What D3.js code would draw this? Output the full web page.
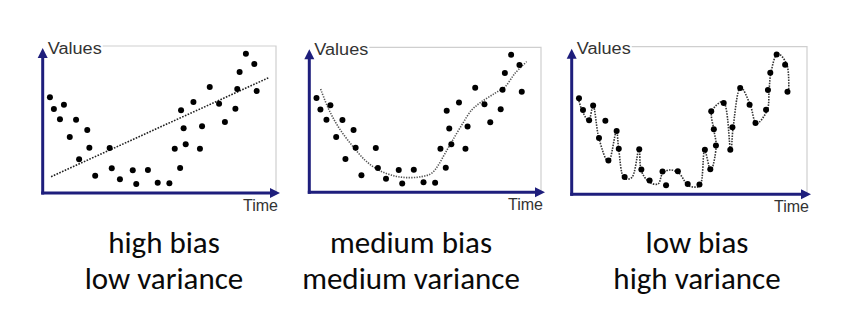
<!DOCTYPE html>
<html><head><meta charset="utf-8">
<script src="https://cdn.jsdelivr.net/npm/d3@7"></script>
<style>body{margin:0;background:#fff}</style></head>
<body><svg id="c" width="841" height="327"></svg>
<script>
// Observations (time, value) in data units 0..100
const dotX=[3.1,4.8,7.4,9.1,11.6,14.3,15.6,19.1,20.0,22.5,28.7,29.6,33.1,38.6,40.1,45.1,49.3,54.3,56.6,58.9,59.3,60.4,61.3,64.6,67.4,68.3,71.6,75.6,78.1,82.6,83.4,84.4,87.1,90.7,91.7];
const dotY=[65.1,57.1,50.1,60.1,38.1,49.9,22.9,42.9,30.8,11.8,30.6,16.8,9.3,15.4,6.1,15.6,7.0,6.6,30.1,17.0,56.3,44.0,33.1,61.9,30.1,45.4,72.1,60.7,48.3,57.3,70.7,82.3,94.8,87.8,69.4];
// high bias: straight fit
const fitX=[3.6,97.1];
const fitY=[11.1,78.6];
// medium bias: smooth fit
const curve2X=[4.9,8.2,12.5,18.3,24.0,29.8,37.0,42.7,48.5,52.8,55.7,58.6,61.5,65.8,70.1,74.4,80.1,84.5,88.8,93.8];
const curve2Y=[71.2,57.9,45.2,32.6,22.3,15.4,11.2,10.1,10.8,13.1,18.8,26.9,34.9,46.4,56.8,62.5,68.3,72.8,82.1,90.1];
// low bias: wiggly fit
const curve3X=[2.8,4.4,7.2,9.1,11.6,15.6,19.0,20.0,22.4,25.5,28.6,29.6,33.1,36.7,38.7,41.8,45.5,49.4,52.0,54.5,56.5,59.1,61.4,60.4,59.6,64.4,67.6,68.6,71.8,75.9,78.5,83.1,83.9,84.7,87.5,91.4,92.2];
const curve3Y=[65.0,56.9,49.9,59.8,37.7,21.9,42.7,30.2,10.8,11.3,30.5,15.8,8.1,7.0,14.4,16.5,14.4,6.1,4.9,5.8,29.6,16.2,32.7,43.8,56.2,62.8,29.6,45.1,72.5,60.5,47.9,57.1,70.9,82.6,95.3,88.1,69.5];
const captionTop=["high bias","medium bias","low bias"];
const captionBottom=["low variance","medium variance","high variance"];
const yLabel="Values", xLabel="Time";

const svg=d3.select("#c");
const panels=[
  {x0:42.7,y0:193,w:233.3,h:147,cx:164},
  {x0:309.3,y0:192.3,w:231.7,h:145,cx:411},
  {x0:571.7,y0:194.3,w:235.3,h:147.6,cx:697}
];
const navy="#1e1e7c";
const pts=dotX.map((x,i)=>[x,dotY[i]]);

panels.forEach((p,k)=>{
  const x=d3.scaleLinear([0,100],[p.x0,p.x0+p.w]);
  const y=d3.scaleLinear([0,100],[p.y0,p.y0-p.h]);
  const g=svg.append("g");
  const top=y(100), right=x(100);
  // frame
  g.append("path").attr("d",`M${p.x0+60},${top}H${right}V${p.y0}`)
    .attr("fill","none").attr("stroke","#cfcfcf").attr("stroke-width",1.2);
  // axes
  g.append("line").attr("x1",p.x0).attr("x2",p.x0).attr("y1",p.y0+1.5).attr("y2",top+10)
    .attr("stroke",navy).attr("stroke-width",3);
  g.append("path").attr("d",`M${p.x0},${top+2}L${p.x0-5},${top+12}L${p.x0+5},${top+12}Z`).attr("fill",navy);
  g.append("line").attr("x1",p.x0-1.5).attr("x2",right-5).attr("y1",p.y0).attr("y2",p.y0)
    .attr("stroke",navy).attr("stroke-width",3);
  g.append("path").attr("d",`M${right+4},${p.y0}L${right-6},${p.y0-5}L${right-6},${p.y0+5}Z`).attr("fill",navy);
  // labels
  g.append("text").attr("x",p.x0+5).attr("y",top+7.5).text(yLabel)
    .attr("font-family","Liberation Sans, Arial, sans-serif").attr("font-size",16).attr("fill","#333")
    .attr("textLength",54).attr("lengthAdjust","spacingAndGlyphs");
  g.append("text").attr("x",right+2).attr("y",p.y0+18).attr("text-anchor","end").text(xLabel)
    .attr("font-family","Liberation Sans, Arial, sans-serif").attr("font-size",16).attr("fill","#333")
    .attr("textLength",35).attr("lengthAdjust","spacingAndGlyphs");
  // fit
  let fitPts, curve, stroke, dash;
  if(k===0){fitPts=fitX.map((v,i)=>[v,fitY[i]]);curve=d3.curveLinear;stroke="#222";dash="1.6,1.4";}
  else if(k===1){fitPts=curve2X.map((v,i)=>[v,curve2Y[i]]);curve=d3.curveCatmullRom;stroke="#555";dash="1.3,1.3";}
  else {fitPts=curve3X.map((v,i)=>[v,curve3Y[i]]);curve=d3.curveCatmullRom.alpha(0.5);stroke="#333";dash="1.5,1.2";}
  const line=d3.line().x(d=>x(d[0])).y(d=>y(d[1])).curve(curve);
  g.append("path").attr("d",line(fitPts)).attr("fill","none").attr("stroke",stroke)
    .attr("stroke-width",1.6).attr("stroke-dasharray",dash);
  // dots
  g.selectAll("circle").data(pts).join("circle")
    .attr("cx",d=>x(d[0])).attr("cy",d=>y(d[1])).attr("r",3).attr("fill","#000");
  // captions
  g.append("text").attr("x",p.cx).attr("y",253).attr("text-anchor","middle").text(captionTop[k])
    .attr("font-family","Carlito, Calibri, Lato, sans-serif").attr("font-size",31).attr("fill","#0a0a0a");
  g.append("text").attr("x",p.cx).attr("y",289).attr("text-anchor","middle").text(captionBottom[k])
    .attr("font-family","Carlito, Calibri, Lato, sans-serif").attr("font-size",31).attr("fill","#0a0a0a");
});
</script></body></html>
